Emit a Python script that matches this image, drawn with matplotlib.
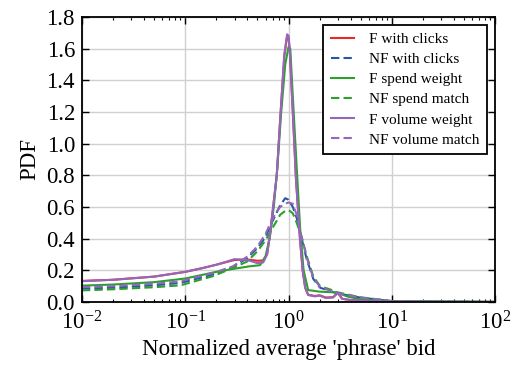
import matplotlib
matplotlib.use("Agg")
import matplotlib.pyplot as plt
from matplotlib.ticker import LogLocator, NullFormatter

plt.rcParams['font.family'] = ['Liberation Serif', 'DejaVu Serif']
plt.rcParams['mathtext.fontset'] = 'stix'

# curves (x: normalized bid, y: PDF)
x_f_clicks = [0.01, 0.02, 0.05, 0.1, 0.15, 0.2, 0.3, 0.4, 0.5, 0.57, 0.62, 0.66, 0.71,
              0.77, 0.83, 0.91, 0.97, 1.0, 1.03, 1.1, 1.18, 1.29, 1.37, 1.45, 1.55, 1.8,
              2.0, 2.3, 2.7, 3.0, 3.3, 4.0, 6.0, 10, 20, 100]
y_f_clicks = [0.133, 0.14, 0.16, 0.19, 0.215, 0.235, 0.265, 0.268, 0.26, 0.262, 0.3, 0.42, 0.6,
              0.8, 1.15, 1.55, 1.68, 1.67, 1.58, 1.2, 0.78, 0.4, 0.2, 0.09, 0.045, 0.038,
              0.042, 0.028, 0.03, 0.058, 0.02, 0.012, 0.005, 0.002, 0.0, 0.0]

x_f_volume = x_f_clicks
y_f_volume = [0.131, 0.14, 0.16, 0.19, 0.215, 0.235, 0.27, 0.265, 0.245, 0.25, 0.3, 0.42, 0.6,
              0.8, 1.15, 1.56, 1.69, 1.68, 1.58, 1.2, 0.78, 0.4, 0.2, 0.09, 0.044, 0.035,
              0.04, 0.025, 0.028, 0.058, 0.02, 0.012, 0.005, 0.002, 0.0, 0.0]

x_f_spend = [0.01, 0.02, 0.05, 0.1, 0.2, 0.3, 0.42, 0.53, 0.6, 0.66, 0.72, 0.78, 0.85, 0.93,
             1.0, 1.04, 1.1, 1.2, 1.3, 1.4, 1.55, 2.0, 2.9, 3.7, 5.0, 10, 100]
y_f_spend = [0.103, 0.11, 0.125, 0.148, 0.19, 0.21, 0.225, 0.232, 0.29, 0.41, 0.6, 0.85, 1.2, 1.5,
             1.61, 1.6, 1.3, 0.85, 0.45, 0.2, 0.075, 0.065, 0.06, 0.035, 0.015, 0.004, 0.0]

x_nf = [0.01, 0.02, 0.05, 0.09, 0.186, 0.29, 0.4, 0.5, 0.6, 0.66, 0.75, 0.83, 0.93, 1.0,
        1.1, 1.2, 1.34, 1.5, 1.74, 2.02, 2.5, 2.93, 4.9, 10, 100]
y_nf_clicks = [0.084, 0.09, 0.105, 0.12, 0.173, 0.222, 0.277, 0.34, 0.41, 0.475, 0.55, 0.61,
               0.655, 0.645, 0.6, 0.53, 0.40, 0.27, 0.145, 0.09, 0.07, 0.055, 0.028, 0.005, 0.0]
y_nf_spend = [0.073, 0.08, 0.093, 0.105, 0.163, 0.215, 0.256, 0.32, 0.39, 0.44, 0.5, 0.55,
              0.575, 0.58, 0.56, 0.50, 0.41, 0.29, 0.16, 0.1, 0.08, 0.062, 0.03, 0.006, 0.0]
y_nf_volume = [0.093, 0.1, 0.115, 0.13, 0.183, 0.225, 0.287, 0.35, 0.43, 0.49, 0.56, 0.6,
               0.62, 0.628, 0.62, 0.55, 0.41, 0.28, 0.15, 0.095, 0.072, 0.056, 0.028, 0.005, 0.0]

labels = ['F with clicks', 'NF with clicks', 'F spend weight',
          'NF spend match', 'F volume weight', 'NF volume match']

red, blue, green, purple = '#e8292b', '#2457a8', '#2ca02c', '#9467bd'

fig = plt.figure(figsize=(5.12, 3.66), dpi=100)
ax = fig.add_axes([0.160, 0.175, 0.807, 0.779])

lw = 1.5
dash = (4, 2)
ax.plot(x_f_clicks, y_f_clicks, color=red, lw=lw, label=labels[0])
ax.plot(x_nf, y_nf_clicks, color=blue, lw=lw, dashes=dash, label=labels[1])
ax.plot(x_f_spend, y_f_spend, color=green, lw=lw, label=labels[2])
ax.plot(x_nf, y_nf_spend, color=green, lw=lw, dashes=dash, label=labels[3])
ax.plot(x_f_volume, y_f_volume, color=purple, lw=lw, label=labels[4])
ax.plot(x_nf, y_nf_volume, color=purple, lw=lw, dashes=dash, label=labels[5])

ax.set_xscale('log')
ax.set_xlim(1e-2, 1e2)
ax.set_ylim(0, 1.8)
ax.set_yticks([0.0, 0.2, 0.4, 0.6, 0.8, 1.0, 1.2, 1.4, 1.6, 1.8])
ax.xaxis.set_minor_locator(LogLocator(base=10, subs=range(2, 10), numticks=20))
ax.xaxis.set_minor_formatter(NullFormatter())

ax.grid(True, which='major', color='#d0d0d0', lw=1)
ax.set_axisbelow(True)
ax.tick_params(which='both', direction='in', top=True, right=True, labelsize=16.5)
ax.tick_params(axis='x', pad=7)
ax.tick_params(axis='y', pad=5)
ax.tick_params(which='major', length=5, width=1)
ax.tick_params(which='minor', length=2.5, width=0.8)
for sp in ax.spines.values():
    sp.set_linewidth(1.3)
    sp.set_color('black')

ax.set_xlabel("Normalized average 'phrase' bid", fontsize=16.5, labelpad=3)
ax.set_ylabel('PDF', fontsize=16.5, labelpad=4)

leg = ax.legend(loc='upper right', fontsize=11, handlelength=1.5, handletextpad=1.0,
                labelspacing=0.42, borderpad=0.5, fancybox=False, framealpha=1,
                borderaxespad=0, bbox_to_anchor=(0.98, 0.972))
leg.get_frame().set_edgecolor('black')
leg.get_frame().set_linewidth(1.3)

fig.savefig('out.png', dpi=100)
